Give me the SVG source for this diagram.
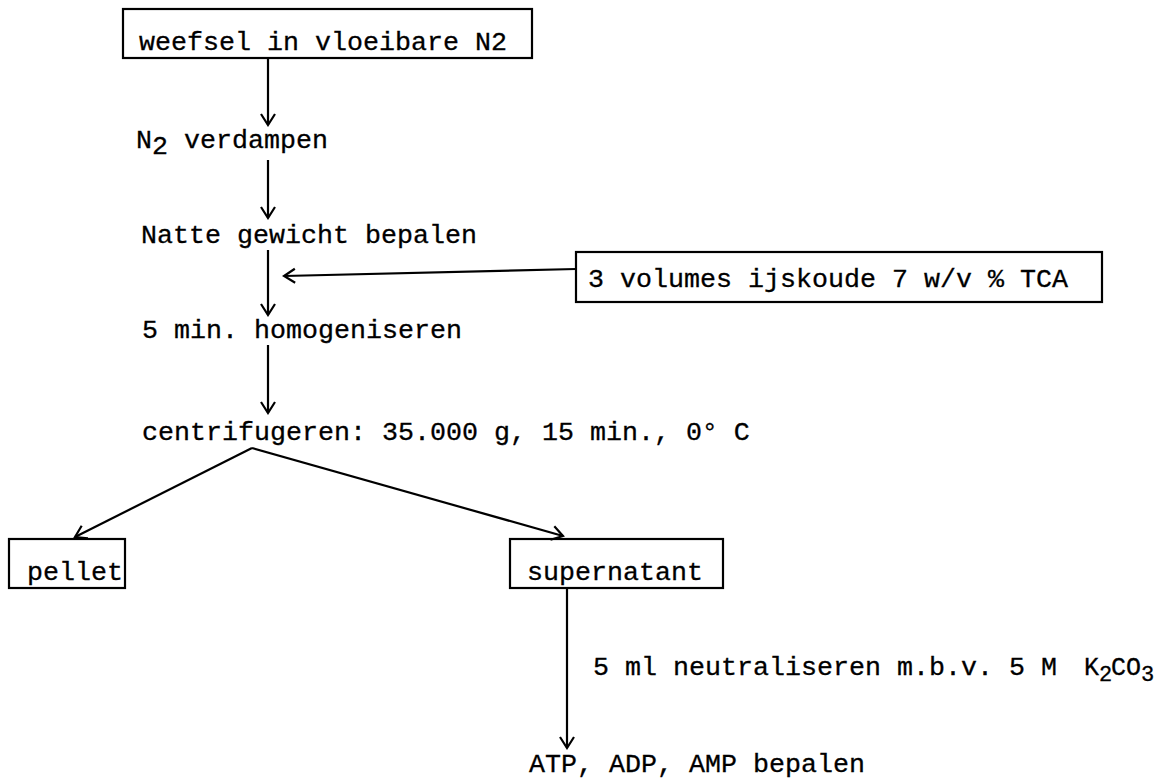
<svg xmlns="http://www.w3.org/2000/svg" width="1166" height="782" viewBox="0 0 1166 782">
<defs>
<style>
text{font-family:"Liberation Mono","DejaVu Sans Mono",monospace;font-size:26.67px;fill:#000;stroke:#000;stroke-width:0.3}
.sm{font-size:25px}
.sub{font-size:22px}
.box{fill:none;stroke:#000;stroke-width:2.2}
.ln{fill:none;stroke:#000;stroke-width:2.2;marker-end:url(#ah)}
</style>
<marker id="ah" viewBox="-14 -9 16 18" markerWidth="16" markerHeight="18" markerUnits="userSpaceOnUse" orient="auto" refX="0" refY="0">
<path d="M-11,-7 L0,0 L-11,7" fill="none" stroke="#000" stroke-width="2.2"/>
</marker>
</defs>
<rect width="1166" height="782" fill="#fff"/>
<g id="connectors">
<line class="ln" x1="268" y1="59" x2="268" y2="125"/>
<line class="ln" x1="268" y1="160" x2="268" y2="218"/>
<line class="ln" x1="268" y1="250" x2="268" y2="315"/>
<line class="ln" x1="576" y1="269" x2="284" y2="276"/>
<line class="ln" x1="268" y1="345" x2="268" y2="413"/>
<line class="ln" x1="252" y1="448" x2="75" y2="537"/>
<line class="ln" x1="252" y1="448" x2="563" y2="536"/>
<line class="ln" x1="567" y1="588" x2="567" y2="748"/>
</g>
<g id="n1">
<rect class="box" x="123" y="9" width="409" height="49"/>
<text x="139" y="50">weefsel in vloeibare N2</text>
</g>
<g id="n2">
<text x="136" y="148">N<tspan dy="6">2</tspan><tspan dy="-6"> verdampen</tspan></text>
</g>
<g id="n3">
<text x="141" y="243">Natte gewicht bepalen</text>
</g>
<g id="n4">
<rect class="box" x="576" y="252" width="526" height="50"/>
<text x="588" y="287">3 volumes ijskoude 7 w/v % TCA</text>
</g>
<g id="n5">
<text x="142" y="338">5 min. homogeniseren</text>
</g>
<g id="n6">
<text x="142" y="440">centrifugeren: 35.000 g, 15 min., 0° C</text>
</g>
<g id="n7">
<rect class="box" x="9" y="539" width="116" height="49"/>
<text x="27" y="580">pellet</text>
</g>
<g id="n8">
<rect class="box" x="510" y="539" width="213" height="49"/>
<text x="527" y="580">supernatant</text>
</g>
<g id="n9">
<text x="593" y="675">5 ml neutraliseren m.b.v. 5 M <tspan class="sm" x="1084">K</tspan><tspan class="sub" dy="6" x="1099">2</tspan><tspan class="sm" dy="-6" x="1111">C</tspan><tspan class="sm" x="1126">O</tspan><tspan class="sub" dy="6" x="1141">3</tspan></text>
</g>
<g id="n10">
<text x="529" y="772">ATP, ADP, AMP bepalen</text>
</g>
</svg>
